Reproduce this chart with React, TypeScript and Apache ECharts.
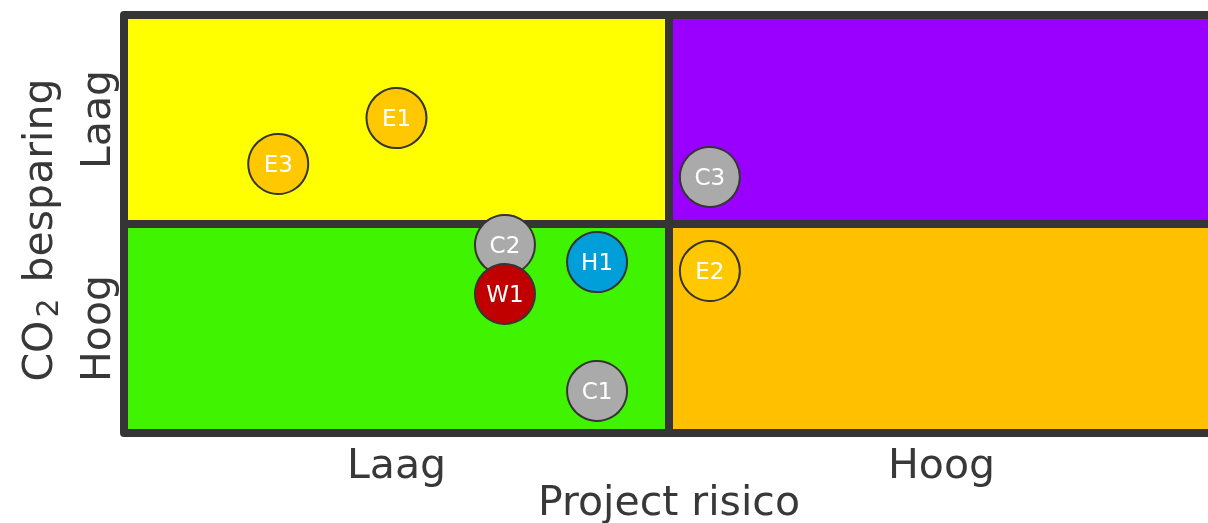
import React, { useEffect, useRef } from "react";
import * as echarts from "echarts";

const xTickLabels = ["Laag", "Hoog"];
const yTickLabels = ["Hoog", "Laag"];
const xAxisName = "Project risico";

// quadrants: lower-left corner of each unit cell and its colour
const quadX0 = [0, 1, 0, 1];
const quadY0 = [1, 1, 0, 0];
const quadColors = ["#FFFF00", "#9900FF", "#40F300", "#FFC000"];

const pointNames = ["E1", "E3", "C3", "C2", "W1", "H1", "E2", "C1"];
const riskValues = [0.5, 0.283, 1.075, 0.699, 0.699, 0.868, 1.075, 0.868];
const savingValues = [1.507, 1.287, 1.225, 0.9, 0.665, 0.818, 0.775, 0.201];
const pointColors = ["#FFC800", "#FFC800", "#AAAAAA", "#AAAAAA", "#C00000", "#009FDA", "#FFC800", "#AAAAAA"];

const FONT = "DejaVu Sans, Verdana, sans-serif";
const TEXT = "#383838";
const DARK = "#353535";

export default function App() {
  const ref = useRef<HTMLDivElement>(null);
  useEffect(() => {
    const chart = echarts.init(ref.current!, null, { renderer: "svg" });
    const quadData = quadX0.map((x, i) => [x, quadY0[i], x + 1, quadY0[i] + 1, i]);
    const points = pointNames.map((n, i) => ({
      value: [riskValues[i], savingValues[i]],
      name: n,
      itemStyle: { color: pointColors[i] },
    }));
    chart.setOption({
      animation: false,
      grid: { left: 124, top: 15, width: 1090, height: 418, containLabel: false, outerBoundsMode: "none" },
      xAxis: {
        type: "value",
        min: 0,
        max: 2,
        interval: 0.5,
        axisLine: { show: false },
        axisTick: { show: false },
        splitLine: { show: false },
        axisLabel: {
          margin: 10,
          fontSize: 41,
          color: TEXT,
          fontFamily: FONT,
          formatter: (v: number) => (v === 0.5 ? xTickLabels[0] : v === 1.5 ? xTickLabels[1] : ""),
        },
        name: xAxisName,
        nameLocation: "middle",
        nameGap: 47,
        nameMoveOverlap: false,
        nameTextStyle: { fontSize: 41, color: TEXT, fontFamily: FONT },
      },
      yAxis: {
        type: "value",
        min: 0,
        max: 2,
        interval: 0.5,
        axisLine: { show: false },
        axisTick: { show: false },
        splitLine: { show: false },
        axisLabel: {
          margin: 8,
          rotate: 90,
          fontSize: 41,
          color: TEXT,
          fontFamily: FONT,
          formatter: (v: number) => (v === 0.5 ? yTickLabels[0] : v === 1.5 ? yTickLabels[1] : ""),
        },
        name: "{a|CO}{b|2}{a| besparing}",
        nameLocation: "middle",
        nameGap: 66,
        nameRotate: 90,
        nameMoveOverlap: false,
        nameTextStyle: {
          color: TEXT,
          fontFamily: FONT,
          padding: [0, 12, 0, 0],
          rich: {
            a: { fontSize: 41, color: TEXT, fontFamily: FONT, lineHeight: 48, verticalAlign: "bottom" },
            b: { fontSize: 30, color: TEXT, fontFamily: FONT, lineHeight: 30, verticalAlign: "bottom", padding: [0, 3, -4, 3] },
          },
        },
      },
      series: [
        {
          type: "custom",
          z: 1,
          silent: true,
          data: quadData,
          renderItem: (params: any, api: any) => {
            const p0 = api.coord([api.value(0), api.value(3)]);
            const p1 = api.coord([api.value(2), api.value(1)]);
            return {
              type: "rect",
              shape: { x: p0[0], y: p0[1], width: p1[0] - p0[0], height: p1[1] - p0[1] },
              style: {
                fill: quadColors[api.value(4)],
                stroke: DARK,
                lineWidth: 8,
                lineJoin: "round",
              },
            };
          },
        },
        {
          type: "scatter",
          z: 3,
          symbol: "circle",
          symbolSize: 60,
          data: points,
          itemStyle: { borderColor: DARK, borderWidth: 2, opacity: 1 },
          label: {
            show: true,
            position: "inside",
            formatter: (p: any) => p.name,
            color: "#FFFFFF",
            fontSize: 23,
            fontFamily: FONT,
          },
        },
      ],
    });
    return () => chart.dispose();
  }, []);
  return <div ref={ref} style={{ position: "fixed", left: 0, top: 0, width: 1208, height: 523 }} />;
}
